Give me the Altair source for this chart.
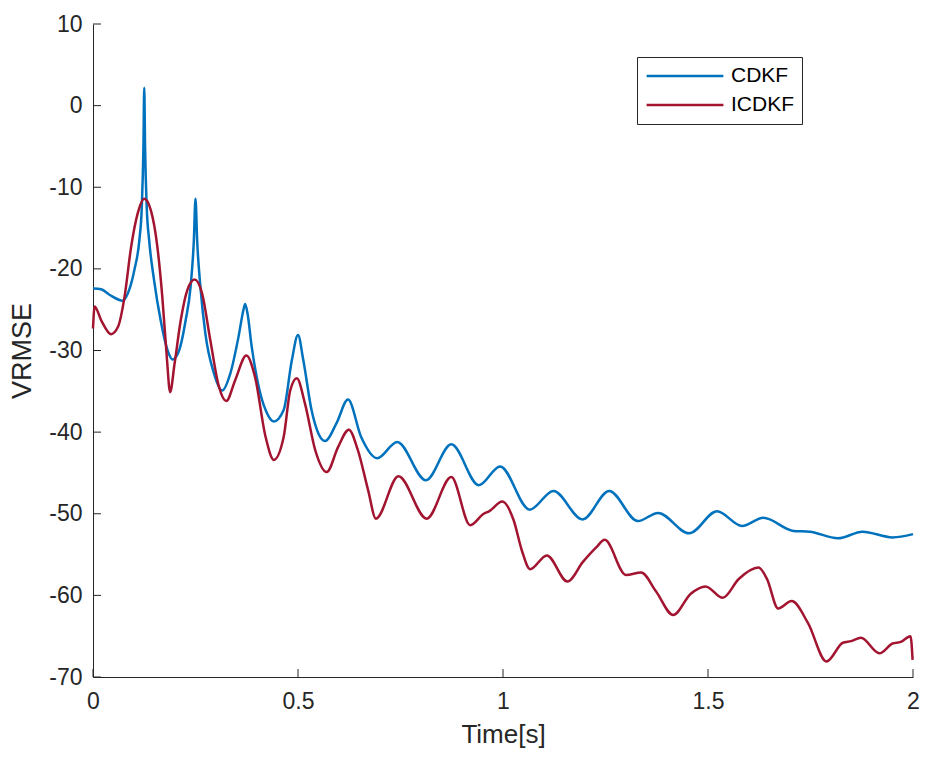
import altair as alt
import pandas as pd

# ---- data ----
cdkf_t = [0.000, 0.020, 0.041, 0.073, 0.085, 0.101, 0.113, 0.119, 0.123, 0.125, 0.127, 0.131, 0.137,
          0.149, 0.165, 0.182, 0.194, 0.210, 0.226, 0.238, 0.246, 0.250, 0.254, 0.262, 0.274, 0.295,
          0.315, 0.335, 0.355, 0.367, 0.371, 0.377, 0.387, 0.404, 0.421, 0.441, 0.465, 0.485, 0.500,
          0.513, 0.533, 0.550, 0.566, 0.594, 0.622, 0.654, 0.693, 0.742, 0.812, 0.874, 0.941, 0.993,
          1.065, 1.123, 1.194, 1.259, 1.329, 1.378, 1.454, 1.522, 1.583, 1.635, 1.708, 1.748, 1.817,
          1.877, 1.950, 2.000]
cdkf_v = [-22.4, -22.5, -23.2, -23.9, -23.0, -20.1, -16.5, -12.4, -5.0, 2.2, -5.0, -12.4, -16.5,
          -21.4, -26.3, -30.0, -31.1, -30.0, -26.3, -22.2, -16.5, -11.4, -16.5, -22.2, -27.9, -32.8,
          -34.9, -32.8, -28.3, -25.0, -24.3, -25.5, -29.5, -34.4, -37.3, -38.7, -37.3, -31.2, -28.1,
          -31.2, -37.3, -40.2, -41.1, -38.9, -36.0, -40.6, -43.2, -41.2, -45.9, -41.5, -46.5, -44.2,
          -49.5, -47.2, -50.7, -47.2, -50.9, -49.9, -52.4, -49.7, -51.5, -50.5, -52.1, -52.2, -53.0,
          -52.2, -52.9, -52.5]

icdkf_t = [0.000, 0.004, 0.020, 0.044, 0.061, 0.077, 0.093, 0.109, 0.125, 0.141, 0.157, 0.169, 0.180,
           0.188, 0.199, 0.214, 0.230, 0.248, 0.266, 0.286, 0.307, 0.325, 0.347, 0.374, 0.395, 0.421,
           0.441, 0.465, 0.481, 0.497, 0.517, 0.542, 0.570, 0.598, 0.624, 0.646, 0.671, 0.690, 0.745,
           0.814, 0.874, 0.920, 0.953, 0.966, 0.998, 1.026, 1.046, 1.066, 1.107, 1.157, 1.195, 1.228,
           1.248, 1.300, 1.337, 1.373, 1.415, 1.458, 1.494, 1.536, 1.575, 1.623, 1.644, 1.671, 1.704,
           1.744, 1.789, 1.829, 1.849, 1.873, 1.918, 1.950, 1.970, 1.994, 1.999]
icdkf_v = [-27.3, -24.6, -26.3, -28.0, -27.1, -23.4, -17.3, -13.2, -11.4, -12.8, -17.3, -23.4, -30.8,
           -35.1, -31.6, -26.3, -22.6, -21.3, -23.0, -28.7, -34.4, -36.2, -33.6, -30.6, -33.2, -40.6,
           -43.4, -40.6, -34.9, -33.4, -36.5, -42.2, -44.9, -41.8, -39.7, -42.2, -47.1, -50.6, -45.4,
           -50.6, -45.5, -51.4, -50.0, -49.7, -48.5, -50.8, -54.5, -56.8, -55.1, -58.3, -55.9, -54.1,
           -53.2, -57.5, -57.2, -59.5, -62.4, -59.8, -58.9, -60.3, -58.0, -56.6, -58.0, -61.6, -60.7,
           -63.4, -68.1, -65.8, -65.6, -65.2, -67.1, -65.9, -65.7, -65.0, -67.9]

series_names = ["CDKF", "ICDKF"]
series_colors = ["#0072BD", "#A2142F"]
x_ticks = [0, 0.5, 1, 1.5, 2]
y_ticks = [10, 0, -10, -20, -30, -40, -50, -60, -70]

df = pd.concat([
    pd.DataFrame({"t": cdkf_t, "v": cdkf_v, "series": series_names[0]}),
    pd.DataFrame({"t": icdkf_t, "v": icdkf_v, "series": series_names[1]}),
])
xt = pd.DataFrame({"t": x_ticks})
yt = pd.DataFrame({"v": y_ticks})

FONT = "Arial, Liberation Sans, Helvetica, sans-serif"
INK = "#262626"
W, H = 820, 653

xscale = alt.Scale(domain=[0, 2], nice=False, zero=False)
yscale = alt.Scale(domain=[-70, 10], nice=False, zero=False)

lines = alt.Chart(df).mark_line(strokeWidth=2.5, interpolate="monotone").encode(
    x=alt.X("t:Q", scale=xscale,
            axis=alt.Axis(values=x_ticks, title="Time[s]", grid=False, tickSize=0,
                          labelExpr="toString(datum.value)", labelPadding=13,
                          labelFontSize=23, titleFontSize=26, titlePadding=8,
                          labelFlush=False)),
    y=alt.Y("v:Q", scale=yscale,
            axis=alt.Axis(values=y_ticks, title="VRMSE", grid=False, tickSize=0,
                          labelExpr="toString(datum.value)", labelPadding=11,
                          labelFontSize=23, titleFontSize=27, titlePadding=12,
                          labelFlush=False)),
    color=alt.Color("series:N",
                    scale=alt.Scale(domain=series_names, range=series_colors),
                    legend=alt.Legend(title=None, orient="none", legendX=544, legendY=33,
                                      symbolType="stroke", symbolSize=5900, symbolStrokeWidth=2.5,
                                      clipHeight=22, labelFontSize=21, strokeColor=INK,
                                      fillColor="white", padding=8, rowPadding=7, labelOffset=6)),
)

yticks = alt.Chart(yt).mark_rule(color=INK, strokeWidth=1).encode(
    y=alt.Y("v:Q", scale=yscale), x=alt.value(0), x2=alt.value(8))
xticks = alt.Chart(xt).mark_rule(color=INK, strokeWidth=1).encode(
    x=alt.X("t:Q", scale=xscale), y=alt.value(H), y2=alt.value(H - 8))

chart = alt.layer(lines, yticks, xticks).properties(
    width=W, height=H,
    autosize=alt.AutoSizeParams(type="none"),
    padding={"left": 85, "top": 16, "right": 7, "bottom": 73},
).configure_view(stroke=None).configure_axis(
    domainColor=INK, labelColor=INK, titleColor=INK, labelFont=FONT, titleFont=FONT,
    titleFontWeight="normal", domainWidth=1,
).configure_legend(labelFont=FONT, labelColor="#000000")

chart.save("out.html", embed_options={"renderer": "svg", "actions": False})
